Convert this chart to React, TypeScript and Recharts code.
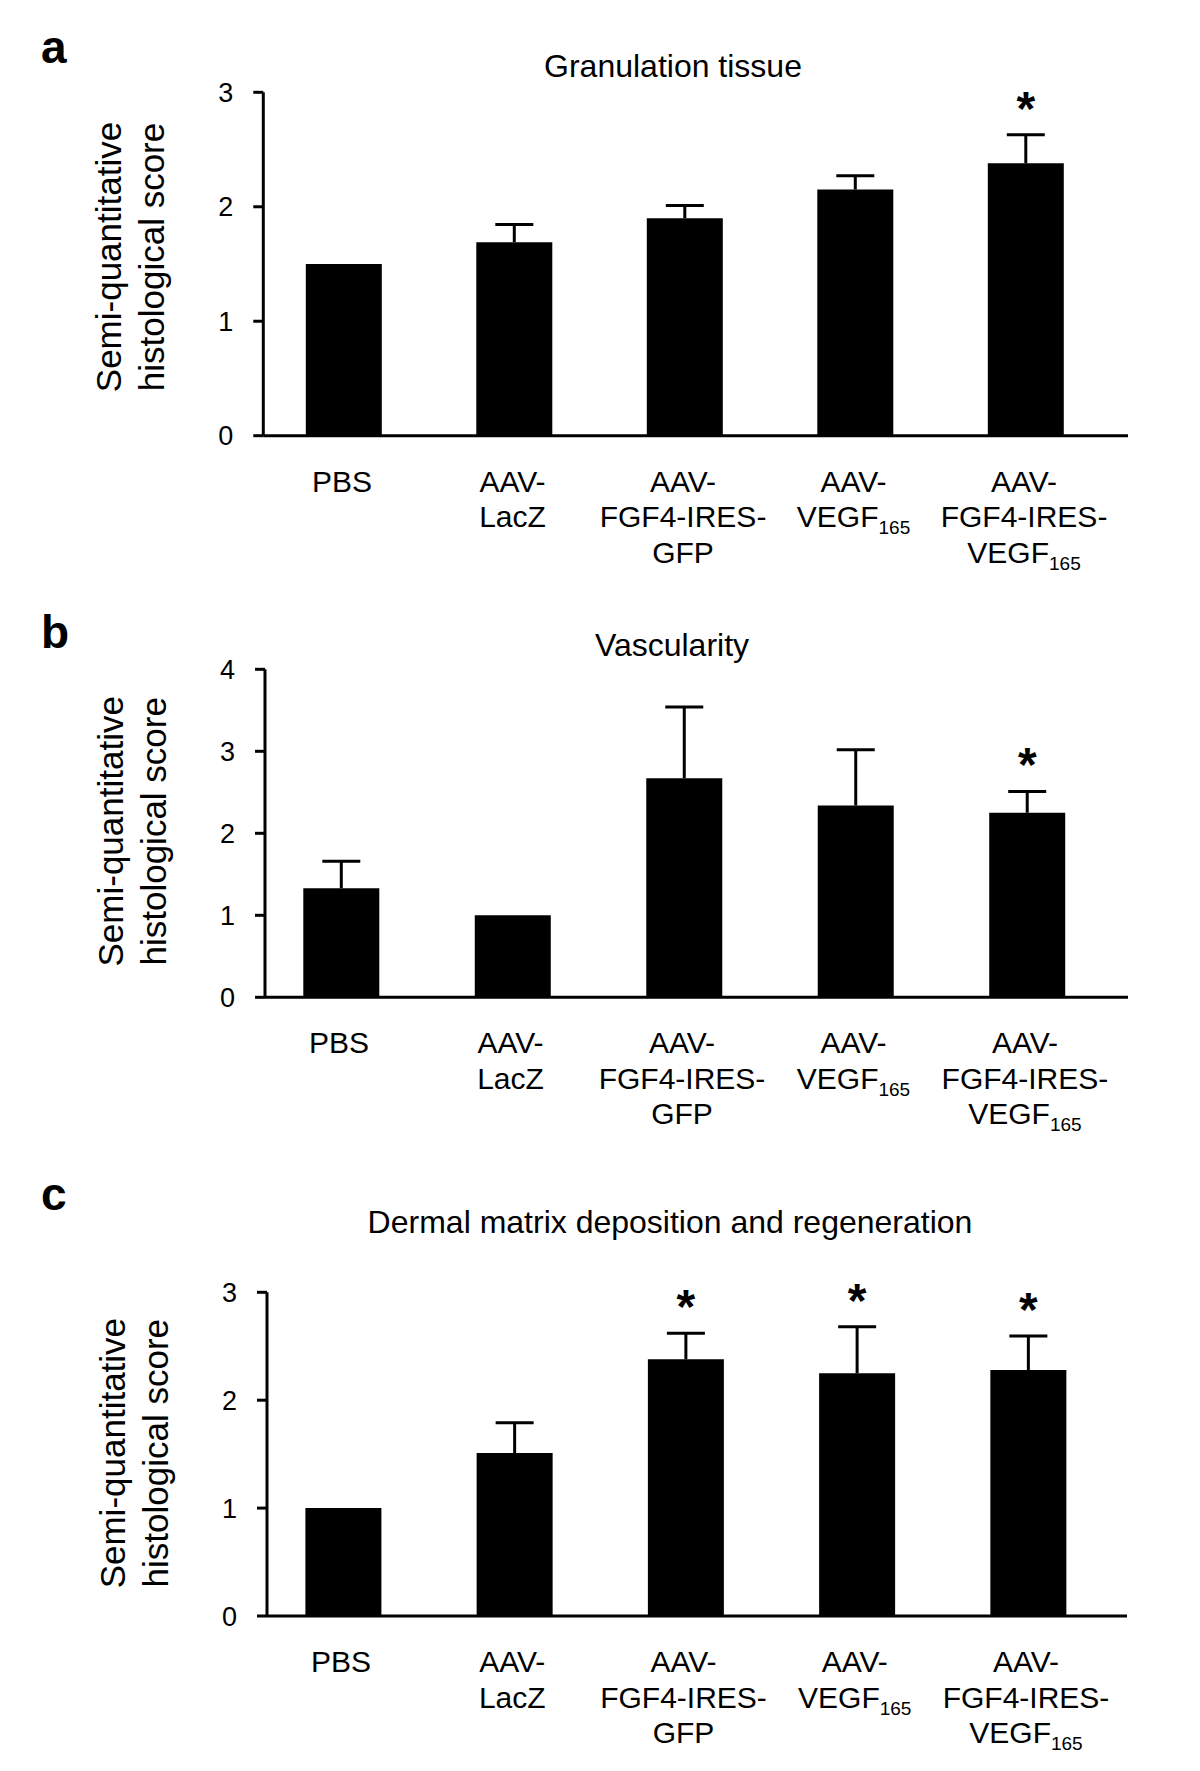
import React from 'react';
import { BarChart, Bar, XAxis, YAxis, LabelList, Label } from 'recharts';

const FONT = '"Liberation Sans", Arial, sans-serif';

const groups = ['PBS', 'AAV-LacZ', 'AAV-FGF4-IRES-GFP', 'AAV-VEGF165', 'AAV-FGF4-IRES-VEGF165'];

// tick label lines, "_" marks a subscript
const groupLines: Record<string, string[]> = {
  'PBS': ['PBS'],
  'AAV-LacZ': ['AAV-', 'LacZ'],
  'AAV-FGF4-IRES-GFP': ['AAV-', 'FGF4-IRES-', 'GFP'],
  'AAV-VEGF165': ['AAV-', 'VEGF_165'],
  'AAV-FGF4-IRES-VEGF165': ['AAV-', 'FGF4-IRES-', 'VEGF_165'],
};

// a: granulation tissue
const granMean = [1.5, 1.69, 1.9, 2.15, 2.38];
const granErr = [0, 0.155, 0.11, 0.12, 0.25];
const granSig = [0, 0, 0, 0, 1];

// b: vascularity
const vascMean = [1.33, 1.0, 2.67, 2.34, 2.25];
const vascErr = [0.33, 0, 0.87, 0.68, 0.26];
const vascSig = [0, 0, 0, 0, 1];

// c: dermal matrix deposition and regeneration
const dermMean = [1.0, 1.51, 2.38, 2.25, 2.28];
const dermErr = [0, 0.28, 0.24, 0.43, 0.315];
const dermSig = [0, 0, 1, 1, 1];

const yLabelLines = ['Semi-quantitative', 'histological score'];

type Row = { group: string; mean: number; err: number; sig: number };

const buildRows = (mean: number[], err: number[], sig: number[]): Row[] =>
  groups.map((g, i) => ({ group: g, mean: mean[i], err: err[i], sig: sig[i] }));

const XTick = (props: any) => {
  const { x, y, payload } = props;
  const lines = groupLines[payload.value] || [payload.value];
  return (
    <g>
      {lines.map((ln, i) => {
        const [main, sub] = ln.split('_');
        return (
          <text key={i} x={x - 2} y={y + 56 + i * 35.5} textAnchor="middle" fontSize={30} fontFamily={FONT} fill="#000">
            {main}
            {sub && (
              <tspan fontSize={19} dy={7}>
                {sub}
              </tspan>
            )}
          </text>
        );
      })}
    </g>
  );
};

const YTick = (props: any) => {
  const { x, y, payload } = props;
  return (
    <text x={x} y={y + 9.5} textAnchor="end" fontSize={27} fontFamily={FONT} fill="#000">
      {payload.value}
    </text>
  );
};

// upper error bar drawn as a stacked segment: stem + cap
const ErrShape = (props: any) => {
  const { x, y, width, height } = props;
  if (!height || height <= 0) return null;
  const cx = x + width / 2;
  return (
    <g stroke="#000" strokeWidth={3}>
      <line x1={cx} y1={y + height} x2={cx} y2={y} />
      <line x1={cx - 19} y1={y} x2={cx + 19} y2={y} />
    </g>
  );
};

const makeStar = (rows: Row[]) => (props: any) => {
  const vb = props.viewBox || props;
  const row = rows[props.index];
  if (!row || !row.sig) return null;
  const { x, y, width } = vb;
  return (
    <text x={x + width / 2} y={y - 37 + 27} textAnchor="middle" fontSize={48} fontWeight="bold" fontFamily={FONT} fill="#000">
      *
    </text>
  );
};

const makeYLabel = (shift: number) => (props: any) => {
  const { x, y, width, height } = props.viewBox;
  const axisX = x + width;
  const cy = y + height / 2 + shift;
  return (
    <g>
      {yLabelLines.map((ln, i) => (
        <text
          key={ln}
          transform={`translate(${axisX - 142 + i * 43}, ${cy}) rotate(-90)`}
          textAnchor="middle"
          fontSize={35}
          fontFamily={FONT}
          fill="#000"
        >
          {ln}
        </text>
      ))}
    </g>
  );
};

type PanelProps = {
  top: number;
  height: number;
  rows: Row[];
  yMax: number;
  plotTop: number;
  plotBottom: number;
  plotLeft: number;
  plotRight: number;
  padLeft: number;
  padRight: number;
  labelShift: number;
};

const Panel = ({ top, height, rows, yMax, plotTop, plotBottom, plotLeft, plotRight, padLeft, padRight, labelShift }: PanelProps) => {
  const yw = 80;
  const xh = 120;
  const margin = {
    top: plotTop - top,
    bottom: top + height - plotBottom - xh,
    left: plotLeft - yw,
    right: 1200 - plotRight,
  };
  const ticks = Array.from({ length: yMax + 1 }, (_, i) => i);
  return (
    <div style={{ position: 'absolute', left: 0, top, width: 1200, height }}>
      <BarChart width={1200} height={height} data={rows} margin={margin} barSize={76}>
        <XAxis
          dataKey="group"
          height={xh}
          tickLine={false}
          tickSize={0}
          tickMargin={0}
          interval={0}
          axisLine={{ stroke: '#000', strokeWidth: 3 }}
          padding={{ left: padLeft, right: padRight }}
          tick={<XTick />}
        />
        <YAxis
          width={yw}
          domain={[0, yMax]}
          ticks={ticks}
          allowDataOverflow
          interval={0}
          tickSize={10}
          tickMargin={20}
          axisLine={{ stroke: '#000', strokeWidth: 3 }}
          tickLine={{ stroke: '#000', strokeWidth: 3 }}
          tick={<YTick />}
        >
          <Label content={makeYLabel(labelShift)} />
        </YAxis>
        <Bar dataKey="mean" stackId="s" fill="#000" isAnimationActive={false} />
        <Bar dataKey="err" stackId="s" shape={<ErrShape />} isAnimationActive={false}>
          <LabelList dataKey="sig" content={makeStar(rows)} />
        </Bar>
      </BarChart>
    </div>
  );
};

const panelTitles = [
  { letter: 'a', title: 'Granulation tissue', letterY: 63, titleX: 673, titleY: 76.5 },
  { letter: 'b', title: 'Vascularity', letterY: 648, titleX: 672, titleY: 655.5 },
  { letter: 'c', title: 'Dermal matrix deposition and regeneration', letterY: 1210, titleX: 670, titleY: 1233 },
];

const App = () => {
  return (
    <div style={{ position: 'absolute', left: 0, top: 0, width: 1200, height: 1771, background: '#fff', fontFamily: FONT }}>
      <Panel
        top={0}
        height={590}
        rows={buildRows(granMean, granErr, granSig)}
        yMax={3}
        plotTop={92.3}
        plotBottom={435.7}
        plotLeft={263.3}
        plotRight={1128}
        padLeft={-4.5}
        padRight={16.7}
        labelShift={-7}
      />
      <Panel
        top={590}
        height={590}
        rows={buildRows(vascMean, vascErr, vascSig)}
        yMax={4}
        plotTop={669.3}
        plotBottom={997.3}
        plotLeft={265}
        plotRight={1128}
        padLeft={-9.7}
        padRight={15.3}
        labelShift={-2}
      />
      <Panel
        top={1180}
        height={591}
        rows={buildRows(dermMean, dermErr, dermSig)}
        yMax={3}
        plotTop={1292.3}
        plotBottom={1616}
        plotLeft={267}
        plotRight={1127}
        padLeft={-9.6}
        padRight={13.4}
        labelShift={-1}
      />
      <svg width={1200} height={1771} style={{ position: 'absolute', left: 0, top: 0, pointerEvents: 'none' }}>
        {panelTitles.map((p) => (
          <g key={p.letter}>
            <text x={41} y={p.letterY} fontSize={46} fontWeight="bold" fontFamily={FONT} fill="#000">
              {p.letter}
            </text>
            <text x={p.titleX} y={p.titleY} textAnchor="middle" fontSize={32} fontFamily={FONT} fill="#000">
              {p.title}
            </text>
          </g>
        ))}
      </svg>
    </div>
  );
};

export default App;
